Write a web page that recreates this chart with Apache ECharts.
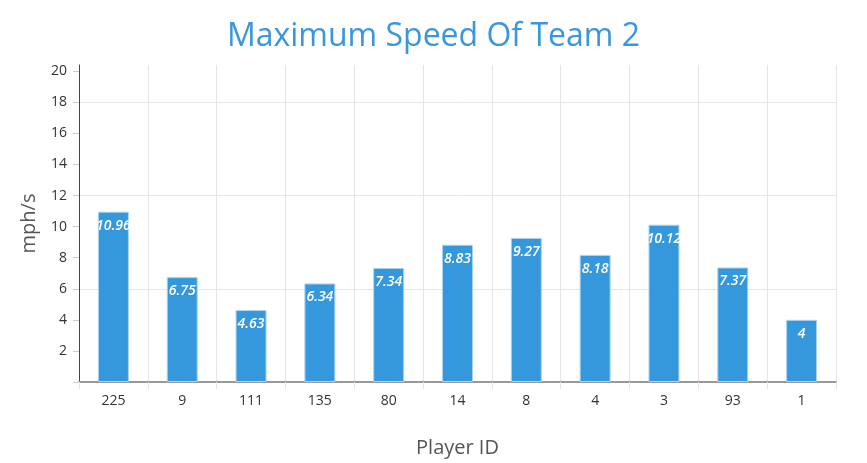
<!DOCTYPE html>
<html>
<head>
<meta charset="utf-8">
<script src="https://cdn.jsdelivr.net/npm/echarts@6/dist/echarts.min.js"></script>
<style>
  html, body { margin: 0; padding: 0; background: #fff; }
  #main { width: 867px; height: 463px; }
</style>
</head>
<body>
<div id="main"></div>
<script>
"use strict";

var playerIds = ['225', '9', '111', '135', '80', '14', '8', '4', '3', '93', '1'];
var maxSpeed = [10.96, 6.75, 4.63, 6.34, 7.34, 8.83, 9.27, 8.18, 10.12, 7.37, 4];
var yMin = 0;
var yMax = 20.4;
var yStep = 2;
var gridStep = 6;

var myChart = echarts.init(document.getElementById('main'));

var font = '"Open Sans", sans-serif';

var option = {
    animation: false,
    title: {
        text: 'Maximum Speed Of Team 2',
        left: 'center',
        top: 16,
        textStyle: {
            fontFamily: font,
            fontSize: 32,
            fontWeight: 'normal',
            color: '#3a96dd'
        }
    },
    grid: {
        left: 79,
        right: 31,
        top: 65,
        bottom: 80
    },
    xAxis: {
        type: 'category',
        data: playerIds,
        name: 'Player ID',
        nameLocation: 'middle',
        nameGap: 56,
        nameTextStyle: { fontFamily: font, fontSize: 20, color: '#555' },
        axisLine: { show: true, lineStyle: { color: '#999', width: 2 } },
        axisTick: { show: true, length: 7, lineStyle: { color: '#e5e5e5' } },
        axisLabel: { fontFamily: font, fontSize: 14, color: '#333', margin: 12 },
        splitLine: { show: true, lineStyle: { color: '#e5e5e5' } }
    },
    yAxis: [
        {
            type: 'value',
            min: yMin,
            max: yMax,
            interval: yStep,
            name: 'mph/s',
            nameLocation: 'middle',
            nameGap: 40,
            nameTextStyle: { fontFamily: font, fontSize: 20, color: '#555' },
            axisLine: { show: true, lineStyle: { color: '#444', width: 1 } },
            axisTick: { show: true, length: 6, lineStyle: { color: '#ccc' } },
            axisLabel: {
                fontFamily: font,
                fontSize: 14,
                color: '#333',
                margin: 12,
                showMaxLabel: false,
                formatter: function (v) { return (v === 0 || v % yStep !== 0) ? '' : v; }
            },
            splitLine: { show: false }
        },
        {
            type: 'value',
            position: 'left',
            min: yMin,
            max: yMax,
            interval: gridStep,
            axisLine: { show: false },
            axisTick: { show: false },
            axisLabel: { show: false },
            splitLine: {
                show: true,
                showMinLine: false,
                showMaxLine: false,
                lineStyle: { color: '#e5e5e5' }
            }
        }
    ],
    series: [{
        name: 'Max speed',
        type: 'bar',
        data: maxSpeed,
        barWidth: '45%',
        itemStyle: {
            color: '#3598dc',
            borderColor: '#a9d4f3',
            borderWidth: 1
        },
        label: {
            show: true,
            position: 'insideTop',
            distance: 7,
            fontFamily: font,
            fontSize: 14,
            fontStyle: 'italic',
            fontWeight: 600,
            color: '#fff'
        }
    }]
};
myChart.setOption(option);
</script>
</body>
</html>
